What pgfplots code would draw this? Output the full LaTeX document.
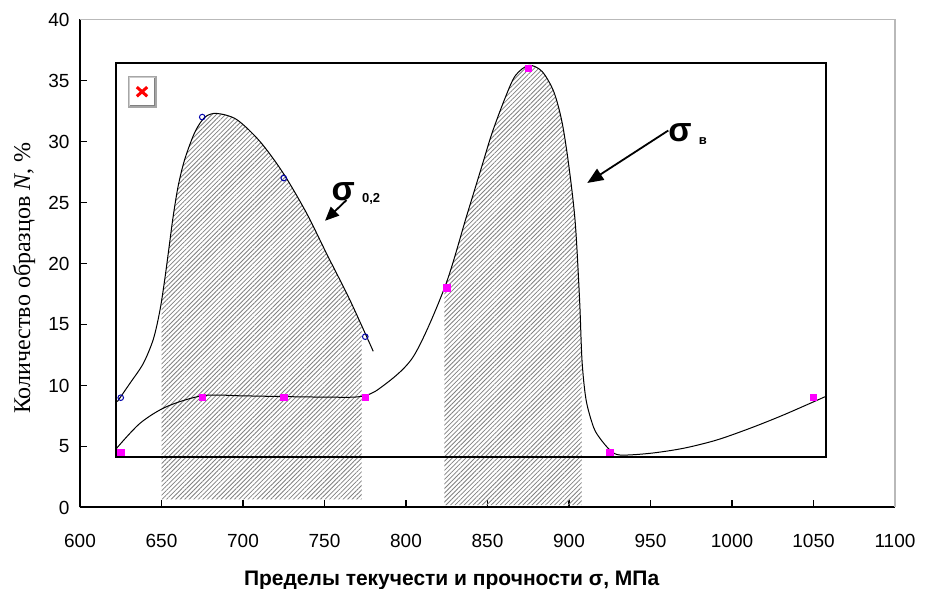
\documentclass[border=0pt]{standalone}
\usepackage{pgfplots}
\pgfplotsset{compat=1.18}
\usepgfplotslibrary{fillbetween}
\usetikzlibrary{patterns.meta,arrows.meta}
\usepackage{fontspec}
\setmainfont{Liberation Sans}
\newfontfamily\timesfont{Liberation Serif}

\definecolor{markmag}{RGB}{255,0,255}
\definecolor{marknavy}{RGB}{0,0,170}

% smoothed frequency curves (traced line) and the measured class values
\pgfplotstableread{
x     y
622.9 8.68
630.7 10.19
638.8 11.8
645.0 13.8
649.1 16.2
652.1 18.8
654.8 21.5
657.2 23.9
660.3 26.4
664.4 28.6
670.6 30.8
676.7 32.0
683.9 32.3
696.1 31.8
710.4 30.0
724.7 27.4
739.1 24.1
751.3 20.8
765.6 17.0
779.9 12.8
}\yieldcurve
\pgfplotstableread{
x      y
622.5  4.86
636.8  6.9
653.2  8.27
675.6  9.17
700.0  9.15
724.7  9.09
750.0  9.05
771.8  9.09
784.0  9.78
804.5  12.37
823.9  18.1
837.2  23.9
846.6  28.0
852.8  30.7
860.9  33.6
867.1  35.4
875.3  36.24
883.4  35.75
890.6  34.1
895.7  31.6
899.8  28.1
903.8  23.4
906.5  17.0
908.0  12.0
910.5  8.8
915.0  6.6
919.0  5.67
925.2  4.7
931.3  4.3
949.7  4.44
970.1  4.85
990.6  5.53
1011.0 6.49
1031.5 7.58
1057.1 9.08
}\strengthcurve
\pgfplotstableread{
x    y
625  9
675  32
725  27
775  14
}\yieldpts
\pgfplotstableread{
x    y
625  4.5
675  9
725  9
775  9
825  18
875  36
925  4.5
1050 9
}\strengthpts

\begin{document}
\begin{tikzpicture}
\begin{axis}[
  scale only axis, width=407.5pt, height=244pt,
  xmin=600, xmax=1100, ymin=0, ymax=40,
  xtick={600,650,...,1100}, ytick={0,5,...,40},
  axis x line*=bottom, axis y line*=left,
  axis line style={line width=1pt,-},
  tick style={black, line width=0.8pt},
  major tick length=3.5pt,
  tick align=inside,
  /pgf/number format/assume math mode=true,
  /pgf/number format/1000 sep={},
  ticklabel style={font=\fontsize{9.5}{11}\selectfont},
  xticklabel style={yshift=-10pt},
  yticklabel style={xshift=-1.7pt},
  clip=false,
]
\coordinate (sw) at (rel axis cs:0,0);
\coordinate (ne) at (rel axis cs:1,1);

% light frame on the open sides
\draw[gray!55, line width=0.6pt] (rel axis cs:0,1) -- (rel axis cs:1,1) -- (rel axis cs:1,0);

\addplot[name path=up, draw=none, smooth] table {\yieldcurve};
\addplot[name path=lo, draw=none, smooth] table {\strengthcurve};
\addplot[name path=b1, draw=none] coordinates {(600,0.67) (1100,0.67)};
\addplot[name path=b2, draw=none] coordinates {(600,0.2) (1100,0.2)};

% hatched ranges
\addplot[pattern={Lines[angle=45,distance=1.6pt,line width=0.4pt]}, pattern color=black!50, draw=none]
  fill between[of=up and b1, soft clip={domain=650:772.8}];
\addplot[pattern={Lines[angle=45,distance=1.6pt,line width=0.4pt]}, pattern color=black!50, draw=none]
  fill between[of=lo and b2, soft clip={domain=823.5:907.8}];

% inner frame
\draw[line width=1pt] (axis cs:621.9,4.17) rectangle (axis cs:1057.5,36.4);

\addplot[black, line width=0.5pt, smooth] table {\yieldcurve};
\addplot[black, line width=0.5pt, smooth] table {\strengthcurve};

\addplot[only marks, mark=o, mark size=1.4pt, color=marknavy, mark options={line width=0.5pt}] table {\yieldpts};
\addplot[only marks, mark=square*, mark size=1.6pt, color=markmag] table {\strengthpts};

% placeholder picture icon
\node[draw=gray!70, fill=white, line width=0.8pt, minimum width=13.7pt, minimum height=15pt, inner sep=0pt] (ic) at (rel axis cs:0.0761,0.852) {};
\draw[gray!40, line width=0.5pt] ([shift={(1pt,1pt)}]ic.south west) -- ([shift={(1pt,-1pt)}]ic.north west) -- ([shift={(-1pt,-1pt)}]ic.north east);
\draw[gray, line width=0.7pt] ([shift={(1pt,1pt)}]ic.south west) -- ([shift={(-1pt,1pt)}]ic.south east) -- ([shift={(-1pt,-1pt)}]ic.north east);
\draw[red, line width=1.5pt] ([shift={(-2.6pt,-2.3pt)}]ic.center) -- ([shift={(2.6pt,2.3pt)}]ic.center);
\draw[red, line width=1.5pt] ([shift={(-2.6pt,2.3pt)}]ic.center) -- ([shift={(2.6pt,-2.3pt)}]ic.center);

% curve labels
\node[font=\bfseries\fontsize{17}{20}\selectfont, inner sep=0pt] at (axis cs:761.5,25.9) {σ};
\node[font=\bfseries\fontsize{6.5}{8}\selectfont, anchor=west, inner sep=0pt] at (axis cs:772.8,25.3) {0,2};
\draw[line width=0.9pt, -{Triangle[length=7pt,width=6pt]}] (axis cs:763.5,25.2) -- (axis cs:750.3,23.5);

\node[font=\bfseries\fontsize{17}{20}\selectfont, inner sep=0pt] at (axis cs:968.1,30.7) {σ};
\node[font=\bfseries\fontsize{6.5}{8}\selectfont, anchor=west, inner sep=0pt] at (axis cs:979.5,30.0) {в};
\draw[line width=0.9pt, -{Triangle[length=8pt,width=6.5pt]}] (axis cs:960.9,30.9) -- (axis cs:911.2,26.6);

% axis titles
\node[font=\bfseries\fontsize{10.5}{12}\selectfont] at (rel axis cs:0.456,-0.150) {Пределы текучести и прочности σ, МПа};
\node[rotate=90, font=\timesfont\fontsize{12}{14}\selectfont] at (rel axis cs:-0.0687,0.470) {Количество образцов \textit{N}, \%};
\end{axis}
\pgfresetboundingbox
\path ([shift={(-40pt,-40.75pt)}]sw) rectangle ([shift={(15.5pt,9.75pt)}]ne);
\end{tikzpicture}
\end{document}
